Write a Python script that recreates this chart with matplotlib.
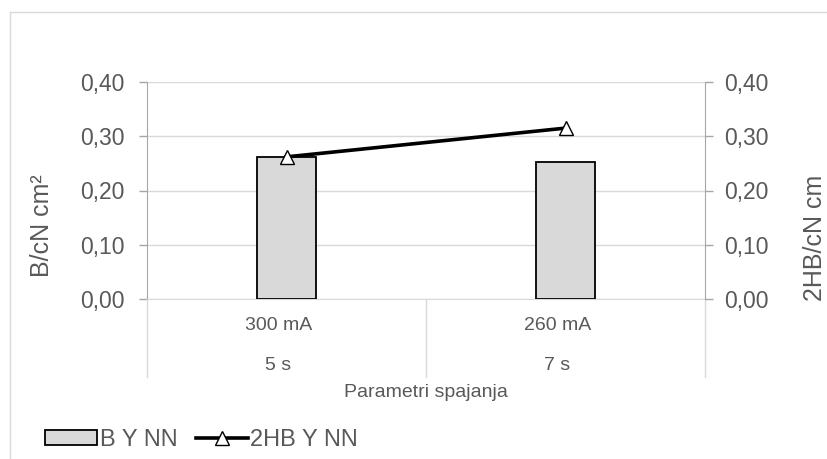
import matplotlib.pyplot as plt
from matplotlib.patches import Rectangle
from matplotlib.lines import Line2D
from matplotlib.ticker import FuncFormatter

plt.rcParams['font.family'] = ['Liberation Sans', 'DejaVu Sans']

# data
currents = ["300 mA", "260 mA"]
times = ["5 s", "7 s"]
b_vals = [0.262, 0.253]
hb_vals = [0.262, 0.315]

GREY_TXT = "#595959"
W, H = 828, 459
fig = plt.figure(figsize=(W / 100, H / 100), dpi=100)
ax = fig.add_axes([147 / W, 1 - 299 / H, (705 - 147) / W, (299 - 82) / H])
ax2 = ax.twinx()

x = list(range(len(currents)))
ax.bar(x, b_vals, width=0.21, color="#d9d9d9", edgecolor="black", linewidth=1.3, zorder=3)
ax2.plot(x, hb_vals, color="black", linewidth=2.6, marker="^", markersize=10,
         markerfacecolor="white", markeredgecolor="black", markeredgewidth=1.0, zorder=4)

fmt = FuncFormatter(lambda v, _: f"{v:.2f}".replace(".", ","))
for a, pad in ((ax, 10), (ax2, 8)):
    a.set_ylim(0, 0.40)
    a.set_yticks([0, 0.1, 0.2, 0.3, 0.4])
    a.yaxis.set_major_formatter(fmt)
    a.tick_params(axis="y", labelsize=16.5, labelcolor=GREY_TXT, color="#a6a6a6",
                  length=6, width=1, pad=pad)
    for s in a.spines.values():
        s.set_visible(False)
ax.set_xlim(-0.5, 1.5)
ax.spines["left"].set_visible(True)
ax.spines["left"].set_color("#a6a6a6")
ax2.spines["right"].set_visible(True)
ax2.spines["right"].set_color("#a6a6a6")
ax.spines["bottom"].set_visible(True)
ax.spines["bottom"].set_color("#d9d9d9")
ax.yaxis.grid(True, color="#d9d9d9", linewidth=1, zorder=0)
ax.set_axisbelow(True)
ax.set_xticks([])

# category labels
for i in x:
    ax.text(i - 0.03, -0.12, currents[i], transform=ax.get_xaxis_transform(), ha="center",
            va="center", fontsize=14, color=GREY_TXT)
    ax.text(i - 0.03, -0.305, times[i], transform=ax.get_xaxis_transform(), ha="center",
            va="center", fontsize=14, color=GREY_TXT)
# category dividers
for xd in [-0.5, 0.5, 1.5]:
    ax.plot([xd, xd], [0, -78 / 217], transform=ax.get_xaxis_transform(),
            color="#d9d9d9", linewidth=1, clip_on=False)
ax.text(0.5, -0.43, "Parametri spajanja", transform=ax.transAxes, ha="center",
        va="center", fontsize=14, color=GREY_TXT)

fig.text(42 / W, 1 - 226 / H, "B/cN cm²", rotation=90, ha="center", va="center",
         fontsize=18, color=GREY_TXT)
fig.text(815 / W, 1 - 238 / H, "2HB/cN cm", rotation=90, ha="center", va="center",
         fontsize=18, color=GREY_TXT)

handles = [Rectangle((0, 0), 1, 1, facecolor="#d9d9d9", edgecolor="black", linewidth=1.3),
           Line2D([], [], color="black", linewidth=2.6, marker="^", markersize=10,
                  markerfacecolor="white", markeredgecolor="black", markeredgewidth=1.0)]
fig.legend(handles, ["B Y NN", "2HB Y NN"], loc="center left",
           bbox_to_anchor=(24 / W, 1 - 440 / H), ncol=2, frameon=False, fontsize=17,
           handlelength=2.2, handleheight=0.6, handletextpad=0.1, columnspacing=0.8,
           labelcolor=GREY_TXT)

# chart frame (top and left edges only visible)
fig.add_artist(Line2D([10 / W, 10 / W], [0, 1 - 12 / H], transform=fig.transFigure,
                      color="#d9d9d9", linewidth=1))
fig.add_artist(Line2D([10 / W, 1], [1 - 12 / H, 1 - 12 / H], transform=fig.transFigure,
                      color="#d9d9d9", linewidth=1))

fig.savefig("out.png", dpi=100)
